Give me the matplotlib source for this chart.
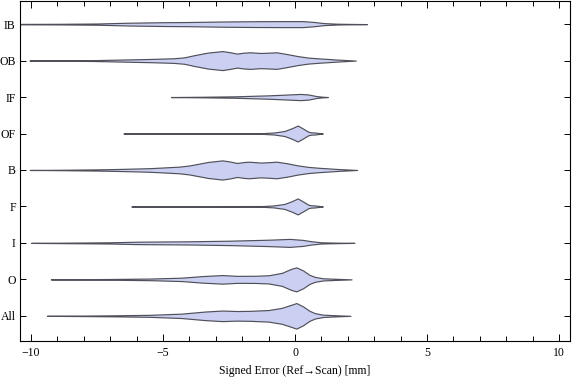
import matplotlib
matplotlib.use("Agg")
import matplotlib.pyplot as plt
from matplotlib.ticker import MultipleLocator

# Categories from top to bottom
categories = ["IB", "OB", "IF", "OF", "B", "F", "I", "O", "All"]

# Violin outlines: x positions [mm] and relative density (half-width)
ib_x = [-10.6, -9.0, -7.5, -6.3, -5.0, -4.0, -2.8, -1.5, -0.5, 0.3, 0.7, 1.1, 1.6, 2.1, 2.72]
ib_w = [0.2, 0.3, 0.6, 1.4, 1.9, 2.1, 2.6, 2.9, 3.0, 3.0, 2.2, 1.0, 0.4, 0.2, 0.0]

ob_x = [-10.06, -9.0, -7.7, -6.6, -5.5, -4.6, -4.2, -3.8, -3.3, -2.75, -2.45, -2.2, -1.95, -1.7,
        -1.3, -1.0, -0.7, -0.3, 0.1, 0.5, 0.9, 1.6, 2.3]
ob_w = [0.0, 0.2, 0.4, 1.0, 1.6, 2.3, 3.2, 5.5, 8.0, 9.5, 8.3, 7.0, 7.9, 8.3,
        7.6, 7.9, 8.3, 6.5, 4.5, 3.0, 2.2, 1.0, 0.0]

if_x = [-4.7, -3.5, -2.3, -1.0, -0.3, 0.2, 0.5, 0.8, 1.0, 1.24]
if_w = [0.0, 0.3, 0.7, 1.7, 2.5, 3.1, 2.6, 1.0, 0.4, 0.0]

of_x = [-6.5, -5.0, -4.0, -1.2, -0.8, -0.4, -0.1, 0.1, 0.3, 0.5, 0.6, 0.75, 0.9, 1.05]
of_w = [0.0, 0.15, 0.3, 0.4, 1.0, 2.5, 5.5, 8.0, 5.0, 1.8, 1.2, 1.0, 0.5, 0.0]

b_x = [-10.05, -8.9, -7.5, -6.7, -5.5, -4.4, -4.0, -3.7, -3.3, -2.75, -2.45, -2.2, -1.95, -1.75,
       -1.3, -1.0, -0.7, -0.3, 0.1, 0.5, 0.9, 1.6, 2.35]
b_w = [0.0, 0.2, 0.6, 1.0, 1.8, 3.3, 4.5, 6.0, 8.0, 9.6, 8.4, 7.0, 7.9, 8.3,
       7.4, 7.8, 8.3, 6.7, 4.6, 3.1, 2.2, 1.0, 0.0]

f_x = [-6.2, -5.0, -4.4, -1.2, -0.8, -0.4, -0.1, 0.1, 0.3, 0.5, 0.6, 0.75, 0.9, 1.05]
f_w = [0.0, 0.15, 0.3, 0.4, 1.0, 2.5, 5.5, 8.0, 5.0, 1.8, 1.2, 1.0, 0.5, 0.0]

i_x = [-10.0, -8.5, -7.0, -6.0, -4.0, -2.5, -1.0, -0.2, 0.3, 0.6, 1.0, 1.5, 2.25]
i_w = [0.0, 0.3, 0.6, 1.2, 1.6, 2.2, 3.2, 4.0, 3.0, 1.7, 0.6, 0.3, 0.0]

o_x = [-9.25, -8.0, -6.9, -5.5, -4.3, -3.5, -2.75, -2.2, -1.5, -1.0, -0.5, -0.15, 0.05,
       0.3, 0.55, 0.75, 1.05, 1.5, 2.14]
o_w = [0.0, 0.2, 0.4, 0.8, 1.7, 3.3, 4.3, 3.5, 3.6, 4.1, 6.5, 10.5, 12.0,
       9.0, 4.5, 2.5, 1.1, 0.6, 0.0]

all_x = [-9.4, -8.0, -6.9, -5.5, -4.3, -3.4, -2.75, -2.2, -1.7, -1.0, -0.5, -0.15, 0.05,
         0.3, 0.55, 0.75, 1.05, 1.5, 2.1]
all_w = [0.0, 0.25, 0.5, 1.0, 2.2, 4.3, 5.3, 4.8, 5.0, 5.8, 8.0, 11.0, 12.8,
         9.5, 5.0, 2.7, 1.2, 0.6, 0.0]

outlines_x = [ib_x, ob_x, if_x, of_x, b_x, f_x, i_x, o_x, all_x]
outlines_w = [ib_w, ob_w, if_w, of_w, b_w, f_w, i_w, o_w, all_w]

x_ticks = [-10, -5, 0, 5, 10]

plt.rcParams['font.family'] = ['Liberation Serif', 'DejaVu Serif']

fig = plt.figure(figsize=(5.76, 3.81), dpi=100)
ax = fig.add_axes([0.0347, 0.105, 0.955, 0.892])

scale = 1.0 / 36.5
n = len(categories)
positions = [n - k for k in range(n)]
for pos, xs, ws in zip(positions, outlines_x, outlines_w):
    lo = [pos - w * scale for w in ws]
    hi = [pos + w * scale for w in ws]
    ax.fill_between(xs, lo, hi, facecolor="#cbd0f2", edgecolor="#50505a",
                    linewidth=0.85, zorder=2)

ax.set_xlim(-10.42, 10.42)
ax.set_ylim(0.31, 9.63)
ax.set_xticks(x_ticks)
ax.set_xticklabels([("\u2212" + str(abs(t))) if t < 0 else str(t) for t in x_ticks])
ax.xaxis.set_minor_locator(MultipleLocator(1))
ax.set_yticks(positions)
ax.set_yticklabels(categories)

ax.tick_params(axis='both', which='both', direction='in', top=True, right=True,
               labelsize=8.5, colors='black', width=0.7)
ax.tick_params(axis='x', which='major', length=5, pad=4)
ax.tick_params(axis='x', which='minor', length=3.3)
ax.tick_params(axis='y', which='major', length=4, pad=3)
for sp in ax.spines.values():
    sp.set_linewidth(0.8)
    sp.set_color('black')

ax.set_xlabel("Signed Error (Ref\u2192Scan) [mm]", fontsize=8.5, labelpad=5)

fig.savefig("out.png", dpi=100)
